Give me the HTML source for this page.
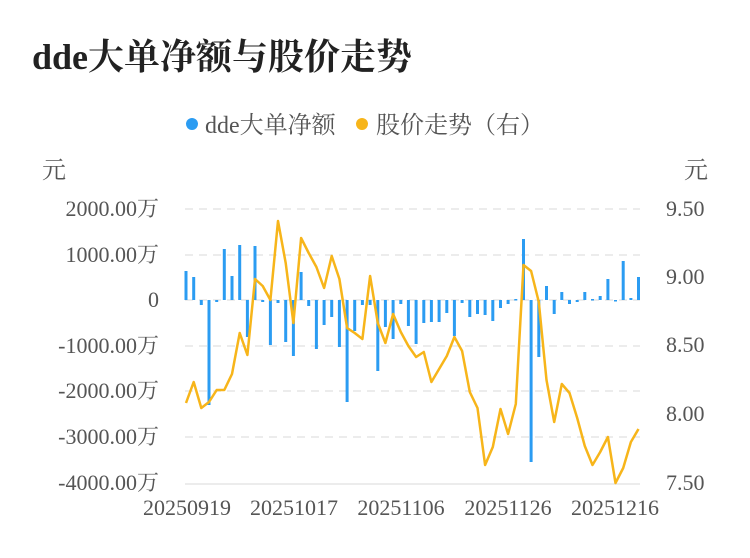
<!DOCTYPE html>
<html><head><meta charset="utf-8"><style>
body{margin:0;background:#fff;width:750px;height:558px;overflow:hidden}
svg{display:block}
text{font-family:"Liberation Serif","Noto Serif CJK SC","Noto Sans CJK SC",serif;fill:#555}
</style></head><body>
<svg id="s" width="750" height="558" viewBox="0 0 750 558">
<text x="32" y="69" style="font-size:36px;font-weight:bold;fill:#222">dde大单净额与股价走势</text>
<circle cx="192" cy="124" r="6" fill="#2b9cf2"/>
<text x="205" y="133" style="font-size:24px">dde大单净额</text>
<circle cx="362" cy="124" r="6" fill="#f7b51a"/>
<text x="376" y="133" style="font-size:24px">股价走势（右）</text>
<text x="42" y="178" style="font-size:24px">元</text>
<text x="684" y="178" style="font-size:24px">元</text>
<g stroke="#ececec" stroke-width="2" stroke-dasharray="8,6">
<line x1="185" y1="209" x2="640" y2="209"/>
<line x1="185" y1="255" x2="640" y2="255"/>
<line x1="185" y1="300" x2="640" y2="300"/>
<line x1="185" y1="346" x2="640" y2="346"/>
<line x1="185" y1="391" x2="640" y2="391"/>
<line x1="185" y1="437" x2="640" y2="437"/>
</g>
<line x1="185" y1="484" x2="640" y2="484" stroke="#ececec" stroke-width="2"/>
<g style="font-size:22px" text-anchor="end">
<text x="159" y="216">2000.00万</text>
<text x="159" y="262">1000.00万</text>
<text x="159" y="307">0</text>
<text x="159" y="353">-1000.00万</text>
<text x="159" y="398">-2000.00万</text>
<text x="159" y="444">-3000.00万</text>
<text x="159" y="490">-4000.00万</text>
</g>
<g style="font-size:22px">
<text x="666" y="216">9.50</text>
<text x="666" y="284">9.00</text>
<text x="666" y="352">8.50</text>
<text x="666" y="421">8.00</text>
<text x="666" y="490">7.50</text>
</g>
<g style="font-size:22px" text-anchor="middle">
<text x="187" y="515">20250919</text>
<text x="294" y="515">20251017</text>
<text x="401" y="515">20251106</text>
<text x="508" y="515">20251126</text>
<text x="615" y="515">20251216</text>
</g>
<g id="bars" fill="#2b9cf2"></g>
<polyline id="ln" fill="none" stroke="#f7b51a" stroke-width="2.5" stroke-linejoin="round"/>
</svg>
<script>
var b=[29,23,-5,-105,-2,51,24,55,-37,54,-2,-45,-3,-42,-56,28,-6,-49,-25,-17,-47,-102,-31,-5,-5,-71,-27,-39,-4,-26,-44,-23,-22,-22,-13,-36,-3,-17,-14,-15,-21,-8,-4,1,61,-162,-57,14,-14,8,-4,-2,8,1,4,21,0,39,2,23];
var l=[403,382,408,402,390,390,374,333,355,279,286,300,221,263,323,238,253,267,288,256,279,328,333,339,276,323,343,314,332,346,357,352,382,369,356,337,351,392,408,465,447,409,434,404,265,271,302,380,422,384,393,418,446,465,452,437,483,468,442,429];
var g=document.getElementById('bars'),h='',p=[];
for(var i=0;i<60;i++){var x=186+7.67*i,v=b[i];var y=v>0?300-v:300,hh=Math.max(Math.abs(v),1.5);
h+='<rect x="'+(x-1.5).toFixed(1)+'" y="'+y+'" width="3" height="'+hh+'"/>';p.push(x.toFixed(1)+','+l[i]);}
g.innerHTML=h;document.getElementById('ln').setAttribute('points',p.join(' '));
</script>
</body></html>
